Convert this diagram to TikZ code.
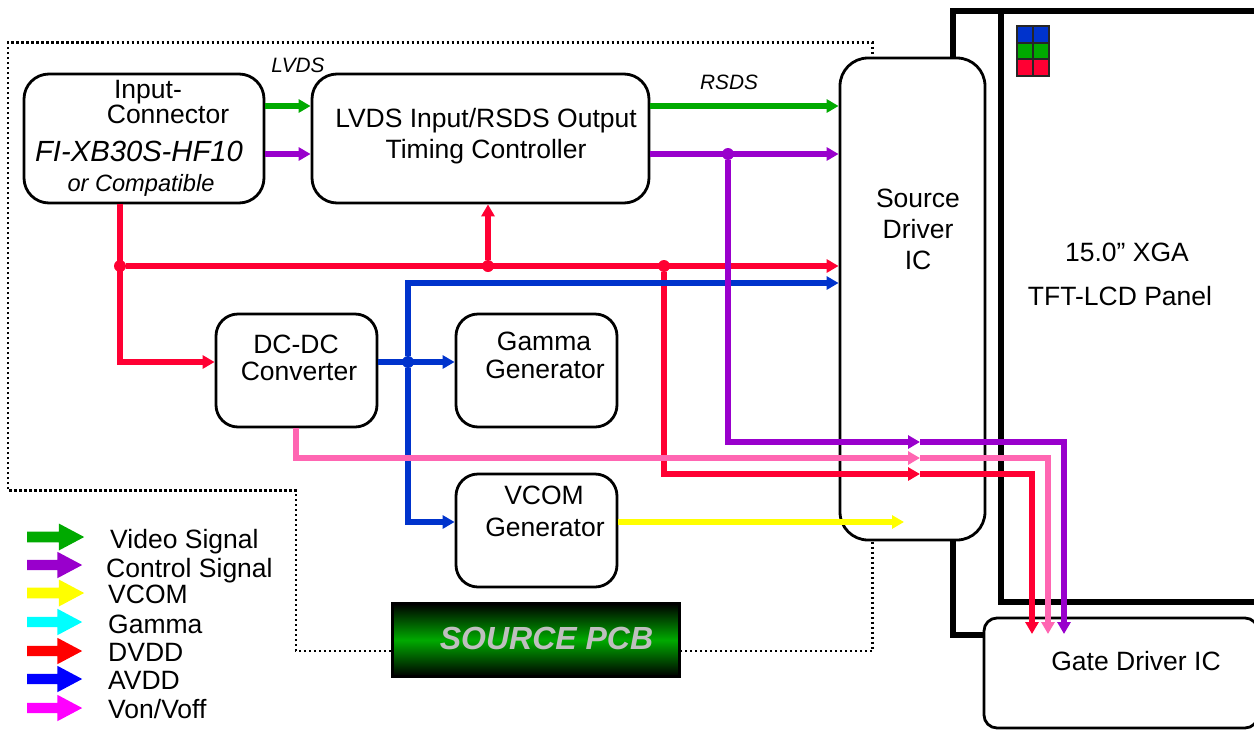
\documentclass[tikz,border=0pt]{standalone}
\usepackage{fontspec}
\setmainfont{Liberation Sans}
\usepackage{xcolor}
\usetikzlibrary{arrows.meta}
\usetikzlibrary{shapes.arrows}
\definecolor{videogreen}{HTML}{00AA00}
\definecolor{ctrlpurple}{HTML}{9900CC}
\definecolor{dvddred}{HTML}{FF0033}
\definecolor{avddblue}{HTML}{0033CC}
\definecolor{vonpink}{HTML}{FF66B2}
\definecolor{vcomyellow}{HTML}{FFFF00}
\definecolor{keycyan}{HTML}{00FFFF}
\definecolor{keyred}{HTML}{FF0000}
\definecolor{keyblue}{HTML}{0000FF}
\definecolor{keymagenta}{HTML}{FF00FF}
\newcommand{\labelfont}{\fontsize{26.5}{30}\selectfont}
\tikzset{
    blockbox/.style={draw, fill=white, line width=2.8pt, rounded corners=#1, inner sep=0pt},
    labeltext/.style={font=\labelfont, anchor=base, inner sep=0pt},
    signal/.style={line width=5.5pt, -{Triangle[length=12pt, width=13pt]}},
    plainsignal/.style={line width=5.5pt},
    junction/.style={circle, inner sep=0pt, minimum size=12pt, fill=#1},
    legendarrow/.style={single arrow, inner sep=5pt, single arrow head extend=8pt},
}
\begin{document}
\begin{tikzpicture}[x=1pt, y=-1pt]
    \useasboundingbox (0,0) rectangle (1254,729);

    \draw[line width=6pt] (1254,10.5) -- (952.5,10.5) -- (952.5,635) -- (990,635);
    \draw[line width=6pt] (1000.5,10.5) -- (1000.5,602) -- (1254,602);
    \foreach \col in {0,1} {
        \foreach \row/\cellcolor in {0/avddblue, 1/videogreen, 2/dvddred} {
            \draw[fill=\cellcolor, draw=black!85, line width=2pt] (1016.5+16*\col,26+16.7*\row) rectangle ++(16,16.7);
        }
    }
    \draw[dash pattern=on 2.5pt off 2.5pt, line width=2.5pt] (391,651) -- (296,651) -- (296,490.5) -- (8,490.5) -- (8,42.5) -- (872.5,42.5) -- (872.5,651) -- (681,651);

    \node[blockbox=25pt, minimum width=240pt, minimum height=129pt] (input) at (144,138.5) {};
    \node[blockbox=25pt, minimum width=337pt, minimum height=129pt] (timing) at (480.5,138.5) {};
    \node[blockbox=28pt, minimum width=145pt, minimum height=482pt] (source) at (912.5,299) {};
    \node[blockbox=22pt, minimum width=161pt, minimum height=113pt] (dcdc) at (296.5,370.5) {};
    \node[blockbox=22pt, minimum width=161pt, minimum height=113pt] (gamma) at (536.5,370.5) {};
    \node[blockbox=22pt, minimum width=161pt, minimum height=113pt] (vcom) at (536.5,530.5) {};
    \node[blockbox=13pt, minimum width=274pt, minimum height=110pt] (gate) at (1121,673) {};
    \node[draw=black, line width=3pt, inner sep=0pt, minimum width=287pt, minimum height=73pt, top color=black, bottom color=black, middle color=videogreen] (pcb) at (536,640) {};

    \node[junction=dvddred] (jleft) at (120,266) {};
    \node[junction=dvddred] (jtiming) at (488,266) {};
    \node[junction=dvddred] (jright) at (664,266) {};
    \node[junction=avddblue] (jblue) at (408,362) {};
    \node[junction=ctrlpurple] (jpurple) at (728,154) {};
    \coordinate (purplemid) at (920,442);
    \coordinate (pinkmid) at (920,458);
    \coordinate (redmid) at (920,474);
    \coordinate (purpleend) at (1064,634);
    \coordinate (pinkend) at (1048,634);
    \coordinate (redend) at (1032,634);
    \coordinate (yellowend) at (904,522);

    \draw[signal, videogreen] (input.east |- 0,106) -- (timing.west |- 0,106);
    \draw[signal, ctrlpurple] (input.east |- 0,154) -- (timing.west |- 0,154);
    \draw[signal, videogreen] (timing.east |- 0,106) -- (source.west |- 0,106);
    \draw[signal, ctrlpurple] (timing.east |- 0,154) -- (source.west |- 0,154);
    \draw[signal, dvddred] (input.south -| jleft) |- (dcdc.west |- 0,362);
    \draw[signal, dvddred] (jleft) -- (source.west |- jleft);
    \draw[signal, dvddred] (jtiming) -- (timing.south -| jtiming);
    \draw[signal, dvddred] (jright) |- (redmid);
    \draw[signal, dvddred] (redmid) -| (redend);
    \draw[signal, avddblue] (dcdc.east |- jblue) -- (gamma.west |- jblue);
    \draw[signal, avddblue] (jblue) |- (source.west |- 0,283);
    \draw[signal, avddblue] (jblue) |- (vcom.west |- 0,522);
    \draw[signal, ctrlpurple] (jpurple) |- (purplemid);
    \draw[signal, ctrlpurple] (purplemid) -| (purpleend);
    \draw[signal, vonpink] (dcdc.south -| 296,0) |- (pinkmid);
    \draw[signal, vonpink] (pinkmid) -| (pinkend);
    \draw[signal, vcomyellow] (vcom.east |- yellowend) -- (yellowend);

    \node[labeltext] (lblinput) at (148,98) {Input-};
    \node[labeltext] (lblconn) at (168,123) {Connector};
    \node[labeltext, font=\fontsize{29.2}{32}\selectfont\itshape] (lblfi) at (139,161) {FI-XB30S-HF10};
    \node[labeltext, font=\fontsize{23.6}{26}\selectfont\itshape] (lblcompat) at (141,191) {or Compatible};
    \node[labeltext, font=\fontsize{20.8}{24}\selectfont\itshape] (lbllvds) at (298,72) {LVDS};
    \node[labeltext, font=\fontsize{20.8}{24}\selectfont\itshape] (lblrsds) at (729,89) {RSDS};
    \node[labeltext] (lbltimingone) at (486,127) {LVDS Input/RSDS Output};
    \node[labeltext] (lbltimingtwo) at (486,158) {Timing Controller};
    \node[labeltext] (lblsource) at (918,207) {Source};
    \node[labeltext] (lbldriver) at (918,238) {Driver};
    \node[labeltext] (lblic) at (918,269) {IC};
    \node[labeltext] (lbldcdc) at (296,353) {DC-DC};
    \node[labeltext] (lblconv) at (299,380) {Converter};
    \node[labeltext] (lblgamma) at (544,350) {Gamma};
    \node[labeltext] (lblgammagen) at (545,378) {Generator};
    \node[labeltext] (lblvcom) at (544,504) {VCOM};
    \node[labeltext] (lblvcomgen) at (545,536) {Generator};
    \node[labeltext] (lblpanelone) at (1127,261) {15.0” XGA};
    \node[labeltext] (lblpaneltwo) at (1120,305) {TFT-LCD Panel};
    \node[labeltext] (lblgate) at (1136,670) {Gate Driver IC};
    \node[labeltext, font=\fontsize{32}{36}\selectfont\bfseries\itshape, text=black!25] (lblpcb) at (546.5,649) {SOURCE PCB};

    \foreach \name/\col/\ya/\len/\wid/\xb/\yb/\txt in {
        video/videogreen/537/57/27/110/548/{Video Signal},
        control/ctrlpurple/565/55/23/106/577/{Control Signal},
        vcomkey/vcomyellow/593/57/27/108/603/{VCOM},
        gammakey/keycyan/622/55/23/108/633/{Gamma},
        dvdd/keyred/651/55/23/108/661/{DVDD},
        avdd/keyblue/679/55/23/108/689/{AVDD},
        von/keymagenta/708/55/23/108/718/{Von/Voff}} {
        \node[legendarrow, fill=\col, minimum height=\len pt, minimum width=\wid pt, single arrow tip angle=56, anchor=tail] (arrow\name) at (27,\ya) {};
        \node[labeltext, anchor=base west] (key\name) at (\xb,\yb) {\txt};
    }
\end{tikzpicture}
\end{document}
